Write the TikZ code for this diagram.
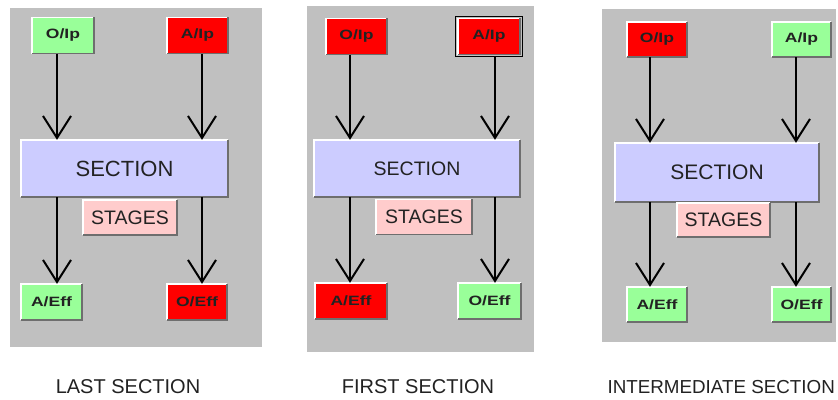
\documentclass[tikz,border=0pt]{standalone}
\usepackage{fontspec}
\setmainfont{Liberation Sans}
\usetikzlibrary{arrows.meta}
\definecolor{bggray}{HTML}{C0C0C0}
\definecolor{okgreen}{HTML}{99FF99}
\definecolor{badred}{HTML}{FF0000}
\definecolor{secblue}{HTML}{CCCCFF}
\definecolor{stpink}{HTML}{FFCCCC}
\definecolor{shadowgray}{HTML}{6E6E6E}
\definecolor{txtcol}{HTML}{222222}
\newcommand\bevelbox[1]{%
  \draw[white, line width=1.5pt] (#1.south west) -- (#1.north west) -- (#1.north east);
  \draw[shadowgray, line width=1.5pt] (#1.south west) -- (#1.south east) -- (#1.north east);}
\newcommand\wlab[1]{\scalebox{1.3}[1]{#1}}
\tikzset{
  panel/.style={fill=bggray, draw=none},
  box/.style={rectangle, inner sep=0pt, draw=none, text=txtcol},
  smallbox/.style={box, minimum height=36pt, font=\fontsize{13.5}{14}\selectfont\bfseries},
  okbox/.style={smallbox, fill=okgreen},
  badbox/.style={smallbox, fill=badred},
  secbox/.style={box, fill=secblue, minimum height=57pt},
  stbox/.style={box, fill=stpink, minimum height=35pt, font=\fontsize{19.5}{20}\selectfont},
  arr/.style={line width=2pt, -{Straight Barb[length=22pt,width=28pt]}},
  caption/.style={text=txtcol, font=\fontsize{20}{20}\selectfont},
}
\begin{document}
\begin{tikzpicture}[x=1pt, y=-1pt]
\useasboundingbox (0,0) rectangle (838,399);
\fill[white] (0,0) rectangle (838,399);

% ---------- Panel 1: LAST SECTION ----------
\fill[panel] (10,8) rectangle (262,347);
\node[okbox, minimum width=62pt] (oip1) at (63,35.5) {\wlab{O/Ip}};
\node[badbox, minimum width=61pt] (aip1) at (197.5,35.5) {\wlab{A/Ip}};
\node[secbox, minimum width=207pt, font=\fontsize{22}{22}\selectfont] (sec1) at (124.5,168.5) {SECTION};
\node[stbox, minimum width=94pt] (st1) at (130,217.5) {STAGES};
\node[okbox, minimum width=61pt] (aeff1) at (51.5,302) {\wlab{A/Eff}};
\node[badbox, minimum width=60pt] (oeff1) at (197,302) {\wlab{O/Eff}};
\foreach \n in {oip1,aip1,sec1,st1,aeff1,oeff1} {\bevelbox{\n}}
\coordinate (L1) at (57,0);
\coordinate (R1) at (202,0);
\draw[arr] (oip1.south -| L1) -- (sec1.north -| L1);
\draw[arr] (aip1.south -| R1) -- (sec1.north -| R1);
\draw[arr] (sec1.south -| L1) -- (aeff1.north -| L1);
\draw[arr] (sec1.south -| R1) -- (oeff1.north -| R1);
\node[caption] (cap1) at (128,387) {LAST SECTION};

% ---------- Panel 2: FIRST SECTION ----------
\fill[panel] (307,6) rectangle (534,352);
\node[badbox, minimum width=61pt] (oip2) at (356.5,36.5) {\wlab{O/Ip}};
\node[badbox, minimum width=62pt] (aip2) at (489,36.5) {\wlab{A/Ip}};
\node[secbox, minimum width=206pt, font=\fontsize{19.5}{20}\selectfont] (sec2) at (417,168.5) {SECTION};
\node[stbox, minimum width=96pt] (st2) at (424,217) {STAGES};
\node[badbox, minimum width=72pt] (aeff2) at (351,301) {\wlab{A/Eff}};
\node[okbox, minimum width=63pt] (oeff2) at (489.5,301) {\wlab{O/Eff}};
\foreach \n in {oip2,aip2,sec2,st2,aeff2,oeff2} {\bevelbox{\n}}
\draw[black, line width=1.2pt] ([xshift=-2pt,yshift=2pt]aip2.north west) rectangle ([xshift=2pt,yshift=-2pt]aip2.south east);
\coordinate (L2) at (350,0);
\coordinate (R2) at (495,0);
\draw[arr] (oip2.south -| L2) -- (sec2.north -| L2);
\draw[arr] ([yshift=-2pt]aip2.south -| R2) -- (sec2.north -| R2);
\draw[arr] (sec2.south -| L2) -- (aeff2.north -| L2);
\draw[arr] (sec2.south -| R2) -- (oeff2.north -| R2);
\node[caption] (cap2) at (418,387) {FIRST SECTION};

% ---------- Panel 3: INTERMEDIATE SECTION ----------
\fill[panel] (602,9) rectangle (836,342);
\node[badbox, minimum width=60pt, minimum height=35pt] (oip3) at (657,39.5) {\wlab{O/Ip}};
\node[okbox, minimum width=59pt, minimum height=35pt] (aip3) at (801.5,39.5) {\wlab{A/Ip}};
\node[secbox, minimum width=204pt, minimum height=59pt, font=\fontsize{21}{21}\selectfont] (sec3) at (717,172.5) {SECTION};
\node[stbox, minimum width=93pt, minimum height=34pt] (st3) at (723.5,220) {STAGES};
\node[okbox, minimum width=60pt, minimum height=35pt] (aeff3) at (657,304.5) {\wlab{A/Eff}};
\node[okbox, minimum width=59pt, minimum height=35pt] (oeff3) at (801.5,304.5) {\wlab{O/Eff}};
\foreach \n in {oip3,aip3,sec3,st3,aeff3,oeff3} {\bevelbox{\n}}
\coordinate (L3) at (650,0);
\coordinate (R3) at (796,0);
\draw[arr] (oip3.south -| L3) -- (sec3.north -| L3);
\draw[arr] (aip3.south -| R3) -- (sec3.north -| R3);
\draw[arr] (sec3.south -| L3) -- (aeff3.north -| L3);
\draw[arr] (sec3.south -| R3) -- (oeff3.north -| R3);
\node[caption, anchor=west, font=\fontsize{18.8}{19}\selectfont] (cap3) at (604,387) {INTERMEDIATE SECTION};
\end{tikzpicture}
\end{document}
